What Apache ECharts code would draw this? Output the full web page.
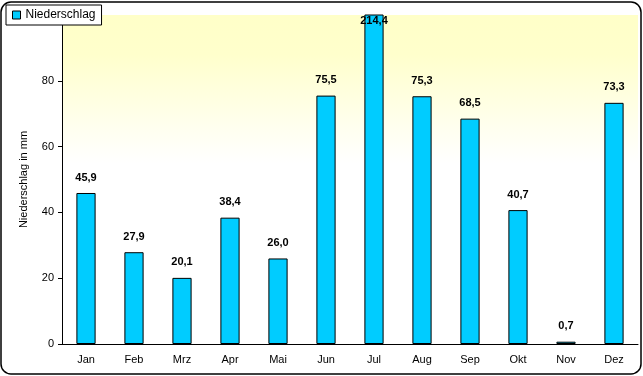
<!DOCTYPE html>
<html>
<head>
<meta charset="utf-8">
<script src="https://cdn.jsdelivr.net/npm/echarts@6/dist/echarts.min.js"></script>
<style>
html,body{margin:0;padding:0;background:#fff;}
#chart{width:643px;height:376px;}
</style>
</head>
<body>
<div id="chart"></div>
<script>
var months = ['Jan','Feb','Mrz','Apr','Mai','Jun','Jul','Aug','Sep','Okt','Nov','Dez'];
var niederschlag = [45.9, 27.9, 20.1, 38.4, 26.0, 75.5, 214.4, 75.3, 68.5, 40.7, 0.7, 73.3];
var yTicks = [0, 20, 40, 60, 80];

var FONT = '"Liberation Sans", Arial, sans-serif';
var chart = echarts.init(document.getElementById('chart'));

// bars above the axis max get their label pinned at the top edge
var barData = niederschlag.map(function(v){
    if (v > 100) {
        return { value: v, label: { position: 'insideTop', offset: [0, -9] } };
    }
    return v;
});

chart.setOption({
    animation: false,
    textStyle: { fontFamily: FONT },
    grid: { left: 62, right: 5, top: 15, bottom: 32, show: true, borderWidth: 0,
        backgroundColor: new echarts.graphic.LinearGradient(0, 0, 0, 1, [
            { offset: 0, color: '#ffffc8' },
            { offset: 0.12, color: '#ffffcc' },
            { offset: 0.35, color: '#fffff0' },
            { offset: 0.45, color: '#ffffff' },
            { offset: 1, color: '#ffffff' }
        ])
    },
    legend: {
        left: 6, top: 5, padding: [4, 6, 4, 6],
        backgroundColor: '#fff', borderColor: '#000', borderWidth: 1,
        itemWidth: 8, itemHeight: 8, itemGap: 4,
        textStyle: { fontSize: 12, color: '#000', fontFamily: FONT },
        data: [{ name: 'Niederschlag', icon: 'rect', itemStyle: { borderColor: '#000', borderWidth: 1 } }]
    },
    xAxis: {
        type: 'category', data: months,
        axisLine: { lineStyle: { color: '#000', width: 1 } },
        axisTick: { length: 4, inside: false, lineStyle: { color: '#000' } },
        axisLabel: { color: '#000', fontSize: 11, margin: 10 }
    },
    yAxis: {
        type: 'value', min: 0, max: 100, interval: 20,
        name: 'Niederschlag in mm', nameLocation: 'middle', nameGap: 33,
        nameTextStyle: { fontSize: 11, color: '#000' },
        axisLine: { show: true, lineStyle: { color: '#000', width: 1 } },
        axisTick: { show: true, length: 4, lineStyle: { color: '#000' } },
        splitLine: { show: false },
        axisLabel: { color: '#000', fontSize: 11, margin: 8, showMaxLabel: false,
            formatter: function(v){ return yTicks.indexOf(v) >= 0 ? String(v) : ''; } }
    },
    series: [{
        name: 'Niederschlag', type: 'bar', data: barData,
        barWidth: '40%',
        itemStyle: { color: '#00ccff', borderColor: '#000', borderWidth: 1 },
        label: {
            show: true, position: 'top', distance: 10,
            color: '#000', fontWeight: 'bold', fontSize: 11, fontFamily: FONT,
            formatter: function(p){ return p.value.toFixed(1).replace('.', ','); }
        }
    }],
    graphic: [{
        type: 'rect', z: 100, silent: true,
        shape: { x: 1, y: 2, width: 640, height: 372, r: 10 },
        style: { fill: null, stroke: '#000', lineWidth: 1.5 }
    }]
});
</script>
</body>
</html>
